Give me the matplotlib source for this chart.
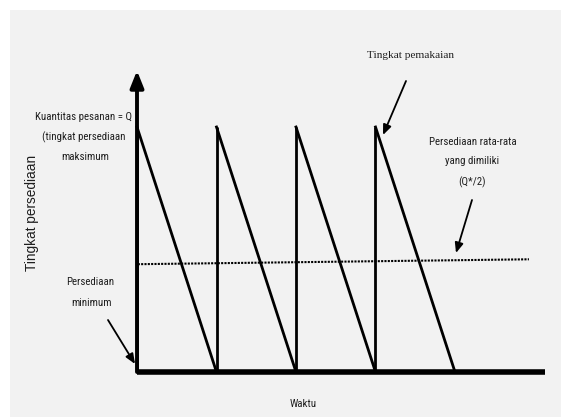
import matplotlib
matplotlib.use("Agg")
import matplotlib.pyplot as plt
from matplotlib.patches import Rectangle
from matplotlib import font_manager
from matplotlib.font_manager import FontProperties

# ---- data (inventory sawtooth, Q = 1) ----
order_times = [0, 1, 2, 3]          # replenishment moments (cycles)
stockout_times = [1, 2, 3, 4]       # stock reaches minimum
max_level = [1.0, 1.0, 1.0, 1.0]    # Q
min_level = 0.0
avg_x = [0.01, 4.93]
avg_y = [0.44, 0.46]                # average inventory line (Q*/2)
x_end = 5.13
y_arrow = 1.23

# ---- pick a condensed sans font if one is installed ----
def find_condensed():
    prefs = ['Liberation Sans Narrow', 'Roboto Condensed', 'Open Sans Condensed', 'DejaVu Sans',
             'Noto Sans', 'Open Sans', 'Roboto']
    cands = []
    for f in font_manager.fontManager.ttflist:
        cond = ('Narrow' in f.name or 'Condensed' in f.name or
                'ondensed' in f.fname or 'Narrow' in f.fname)
        regular = f.weight in (400, 'normal', 'regular', 'book')
        if cond and regular and f.style == 'normal':
            cands.append(f)
    for p in prefs:
        for f in cands:
            if f.name.startswith(p):
                return FontProperties(fname=f.fname)
    if cands:
        return FontProperties(fname=cands[0].fname)
    return FontProperties(family='Liberation Sans')

sans_n = find_condensed()
serif = FontProperties(family='Liberation Serif')
sans = FontProperties(family='Liberation Sans')

W, H = 561, 417
fig = plt.figure(figsize=(W / 100, H / 100), dpi=100, facecolor='white')
bg = fig.add_axes([0, 0, 1, 1], zorder=-10)
bg.set_axis_off()
bg.set_xlim(0, 1)
bg.set_ylim(0, 1)
bg.add_patch(Rectangle((10 / W, 0), 1 - 10 / W, 1 - 10 / H, facecolor='#f2f2f2', edgecolor='none'))

# axes mapping: x 79.5 px per unit from px 137, y 245 px per unit from py 372
px0, py0, sx, sy = 137, 372, 79.5, 245
xmax, ymax = 5.3, 1.25
ax = fig.add_axes([px0 / W, (H - py0) / H, xmax * sx / W, ymax * sy / H], zorder=1)
ax.set_xlim(0, xmax)
ax.set_ylim(0, ymax)
ax.patch.set_alpha(0)
ax.set_axis_off()

# sawtooth
for t0, t1, q in zip(order_times, stockout_times, max_level):
    ax.plot([t0, t0], [min_level, q], color='black', lw=2, solid_capstyle='butt', zorder=3, clip_on=False)
    ax.plot([t0, t1], [q, min_level], color='black', lw=2, zorder=3, clip_on=False)

# axes lines
ax.plot([0, x_end], [0, 0], color='black', lw=4, solid_capstyle='butt', zorder=4, clip_on=False)
ax.annotate('', xy=(0, y_arrow), xytext=(0, 0),
            arrowprops=dict(arrowstyle='-|>,head_length=1.0,head_width=0.4', color='black', lw=2.8,
                            shrinkA=0, shrinkB=0), zorder=4)

# average line
ax.plot(avg_x, avg_y, color='black', lw=1.5, ls=(0, (1, 0.6)), zorder=3)

def d(px, py):
    return ((px - px0) / sx, (py0 - py) / sy)

arrow = dict(arrowstyle='-|>,head_length=0.6,head_width=0.25', color='black', lw=1.3,
             shrinkA=0, shrinkB=0)
ax.annotate('', xy=d(383, 135), xytext=d(406, 81), arrowprops=arrow, annotation_clip=False)
ax.annotate('', xy=d(456, 253), xytext=d(472, 200), arrowprops=arrow, annotation_clip=False)
ax.annotate('', xy=d(135, 364), xytext=d(108, 320), arrowprops=arrow, annotation_clip=False)

# ---- labels (one text per line), sized to the reference widths ----
renderer = fig.canvas.get_renderer()

def fit_size(fp, s, target, rotation=0):
    t = fig.text(0, 0, s, fontproperties=fp, fontsize=10, rotation=rotation)
    bb = t.get_window_extent(renderer)
    t.remove()
    span = bb.height if rotation else bb.width
    return 10 * target / span

size_n = fit_size(sans_n, 'Kuantitas pesanan = Q', 96)
size_s = fit_size(serif, 'Tingkat pemakaian', 86)
size_y = fit_size(sans, 'Tingkat persediaan', 116, rotation=90)

lines = [
    ('Kuantitas pesanan = Q', 83, 117),
    ('(tingkat persediaan', 84, 137),
    ('maksimum', 85, 157),
    ('Persediaan rata-rata', 473, 142),
    ('yang dimiliki', 472, 161),
    ('(Q*/2)', 472, 182),
    ('Persediaan', 90, 282),
    ('minimum', 91, 303),
    ('Waktu', 303, 404),
]
for s, x, y in lines:
    ax.text(*d(x, y), s, fontproperties=sans_n, fontsize=size_n, ha='center', va='center',
            color='#1e1e1e')

ax.text(*d(411, 55), 'Tingkat pemakaian', fontproperties=serif, fontsize=size_s,
        ha='center', va='center', color='#1e1e1e')
ax.text(*d(32, 213), 'Tingkat persediaan', fontproperties=sans, fontsize=size_y, rotation=90,
        ha='center', va='center', color='#1e1e1e')

fig.savefig('out.png', dpi=100, facecolor=fig.get_facecolor())
